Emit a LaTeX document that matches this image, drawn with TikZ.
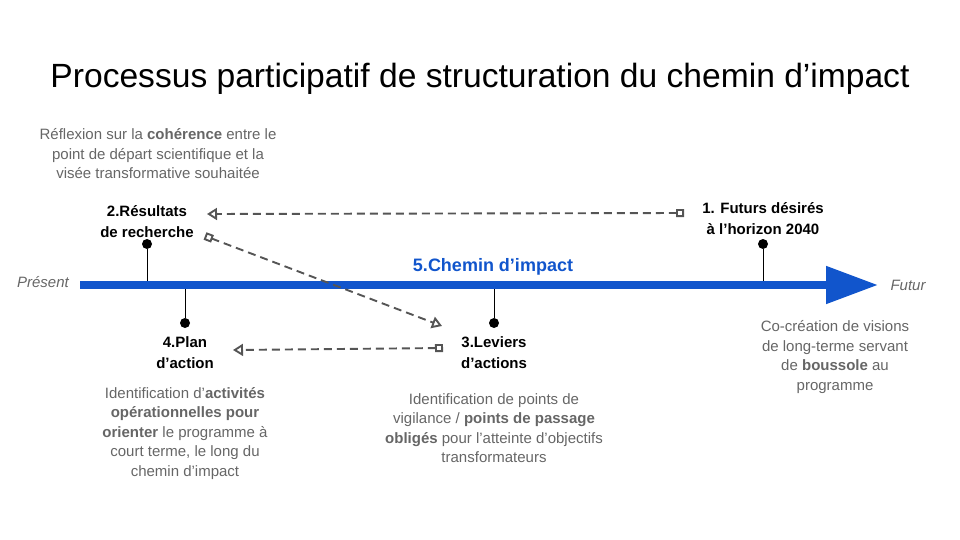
\documentclass[tikz,border=0pt]{standalone}
\usepackage{fontspec}
\setmainfont{Liberation Sans}
\usepackage{xcolor}
\usetikzlibrary{arrows.meta}
\definecolor{bleuchemin}{HTML}{1155CC}
\definecolor{grisdesc}{HTML}{666666}
\definecolor{grislien}{HTML}{555555}

\begin{document}
\begin{tikzpicture}[x=1pt,y=-1pt,
  lab/.style={font=\fontsize{15}{21}\selectfont\bfseries, align=center, inner sep=0pt},
  desc/.style={font=\fontsize{15}{19.5}\selectfont, text=grisdesc, align=center, inner sep=0pt},
  bout/.style={font=\fontsize{15}{18}\selectfont\itshape, text=grisdesc, inner sep=0pt},
  pastille/.style={circle, fill=black, inner sep=0pt, minimum size=10pt},
  tige/.style={line width=1pt},
  lien/.style={draw=grislien, line width=1.9pt, dash pattern=on 8pt off 5pt,
    {Square[open,length=8pt,width=8pt]}-{Triangle[open,length=10pt,width=12pt]}},
  axe/.style={draw=bleuchemin, line width=8pt, -{Triangle[length=52pt,width=36pt]}}]
  \useasboundingbox (0,0) rectangle (960,540);
  \node (titre) at (480,79) {\fontsize{33.6}{38}\selectfont Processus participatif de structuration du chemin d’impact};

  % axe du temps
  \node[bout] (present) at (43,282) {Présent};
  \node[bout] (futur) at (908,285) {Futur};
  \coordinate (a0) at (80,285);
  \coordinate (a1) at (878,285);
  \node[font=\fontsize{18}{20}\selectfont\bfseries, text=bleuchemin, inner sep=0pt] (chemin) at (493,267) {5.Chemin d’impact};

  % jalons
  \node[pastille] (d1) at (763,244) {};
  \node[pastille] (d2) at (147,244) {};
  \node[pastille] (d3) at (494,323) {};
  \node[pastille] (d4) at (185,323) {};
  \coordinate (b1) at (763,285);
  \coordinate (b2) at (147,285);
  \coordinate (b3) at (494,285);
  \coordinate (b4) at (185,285);
  \draw[tige] (d1) -- (b1);
  \draw[tige] (d2) -- (b2);
  \draw[tige] (d3) -- (b3);
  \draw[tige] (d4) -- (b4);
  \draw[axe] (a0) -- (a1);

  \node[lab] (l1) at (763,218.5) {1. Futurs désirés\\à l’horizon 2040};
  \node[lab] (l2) at (147,221.5) {2.Résultats\\de recherche};
  \node[lab] (l3) at (494,353) {3.Leviers\\d’actions};
  \node[lab] (l4) at (185,353) {4.Plan\\d’action};

  % liens pointilles
  \coordinate (s1) at (684,213);
  \coordinate (e1) at (207,214);
  \coordinate (s2) at (205,236);
  \coordinate (e2) at (442,326);
  \coordinate (s3) at (443,348);
  \coordinate (e3) at (233,350);
  \draw[lien] (s1) -- (e1);
  \draw[lien] (s2) -- (e2);
  \draw[lien] (s3) -- (e3);

  % descriptions
  \node[desc] (t2) at (158,154) {Réflexion sur la \textbf{cohérence} entre le\\point de départ scientifique et la\\visée transformative souhaitée};
  \node[desc] (t4) at (185,433.5) {Identification d’\textbf{activités}\\\textbf{opérationnelles pour}\\\textbf{orienter} le programme à\\court terme, le long du\\chemin d’impact};
  \node[desc] (t3) at (494,428) {Identification de points de\\vigilance / \textbf{points de passage}\\\textbf{obligés} pour l’atteinte d’objectifs\\transformateurs};
  \node[desc] (t1) at (835,357) {Co-création de visions\\de long-terme servant\\de \textbf{boussole} au\\programme};
\end{tikzpicture}
\end{document}
